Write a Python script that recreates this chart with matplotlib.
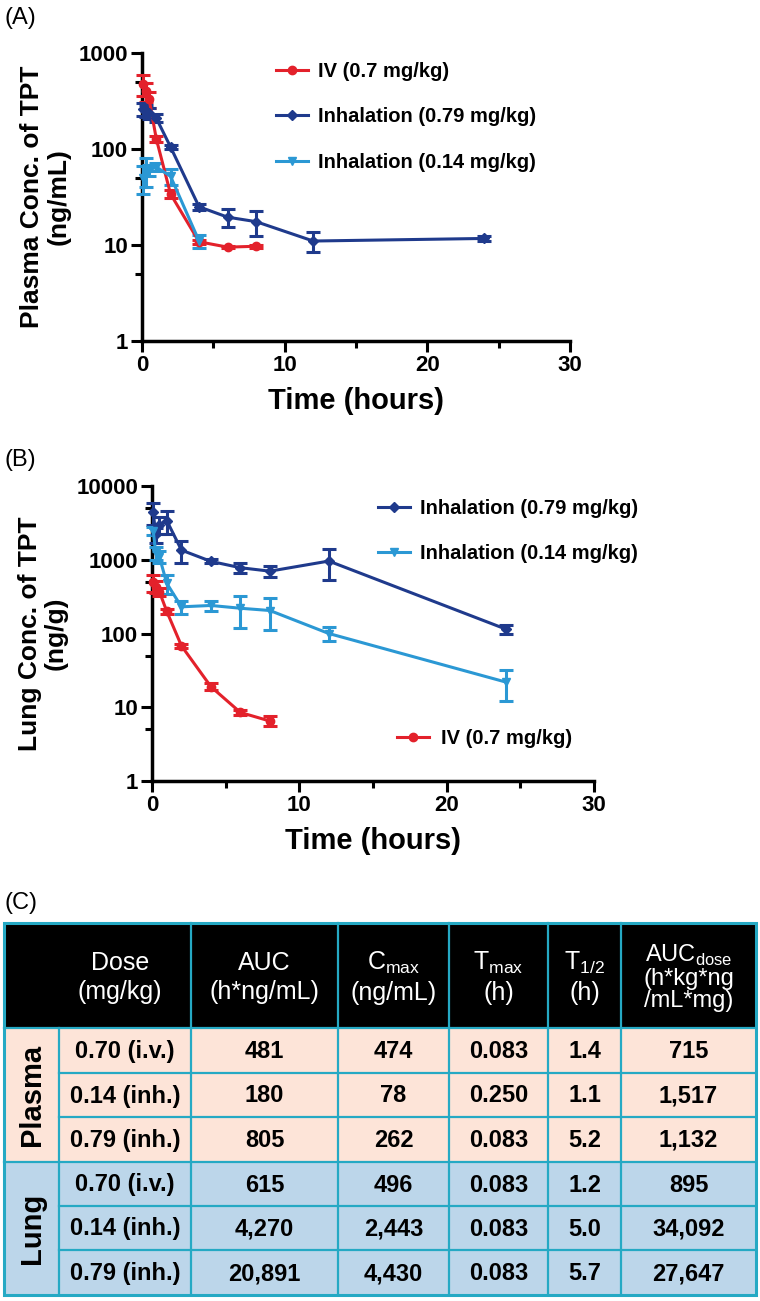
import numpy as np
import matplotlib
matplotlib.use("Agg")
import matplotlib.pyplot as plt
from matplotlib.lines import Line2D
from matplotlib.patches import Rectangle
from matplotlib.ticker import LogLocator, FixedLocator, NullFormatter

plt.rcParams['font.family'] = ['Liberation Sans', 'DejaVu Sans']
plt.rcParams['mathtext.fontset'] = 'custom'
plt.rcParams['mathtext.rm'] = 'Liberation Sans'

RED = '#e3212b'
DARK = '#1f3a8c'
LIGHT = '#2b98d4'

# ---- plasma data (A) ----
t_iv = [0.083, 0.25, 0.5, 1, 2, 4, 6, 8]
t_inh = [0.083, 0.25, 0.5, 1, 2, 4, 6, 8, 12, 24]
t_inh_low_plasma = [0.083, 0.25, 0.5, 1, 2, 4]

plasma_iv = [474, 400, 330, 128, 34, 10.8, 9.5, 9.7]
plasma_iv_sd = [120, 90, 60, 10, 3, 0.5, 0.3, 0.3]
plasma_hi = [262, 250, 235, 210, 105, 25, 19.5, 17.5, 11, 11.7]
plasma_hi_sd = [40, 35, 30, 20, 5, 2, 4, 5, 2.5, 0.8]
plasma_lo = [50, 60, 60, 65, 52, 11]
plasma_lo_sd = [16, 20, 8, 6, 10, 1.8]

# ---- lung data (B) ----
lung_iv = [496, 430, 370, 200, 68, 19, 8.5, 6.5]
lung_iv_sd = [130, 80, 50, 15, 5, 2, 0.6, 1]
lung_hi = [4430, 2200, 3000, 3400, 1350, 950, 780, 700, 960, 115]
lung_hi_sd = [1500, 500, 800, 1200, 450, 60, 120, 120, 430, 15]
lung_lo = [2443, 1250, 1100, 480, 230, 240, 220, 205, 100, 22]
lung_lo_sd = [300, 250, 200, 140, 45, 40, 100, 95, 22, 10]

lbl_iv = 'IV (0.7 mg/kg)'
lbl_hi = 'Inhalation (0.79 mg/kg)'
lbl_lo = 'Inhalation (0.14 mg/kg)'

# ---- table data (C) ----
col_headers = ['Dose\n(mg/kg)', 'AUC\n(h*ng/mL)', r'C$_{\mathregular{max}}$' + '\n(ng/mL)',
               r'T$_{\mathregular{max}}$' + '\n(h)', r'T$_{\mathregular{1/2}}$' + '\n(h)',
               r'AUC$_{\mathregular{dose}}$' + '\n(h*kg*ng\n/mL*mg)']
groups = ['Plasma', 'Lung']
doses = ['0.70 (i.v.)', '0.14 (inh.)', '0.79 (inh.)']
auc = ['481', '180', '805', '615', '4,270', '20,891']
cmax = ['474', '78', '262', '496', '2,443', '4,430']
tmax = ['0.083', '0.250', '0.083', '0.083', '0.083', '0.083']
thalf = ['1.4', '1.1', '5.2', '1.2', '5.0', '5.7']
auc_dose = ['715', '1,517', '1,132', '895', '34,092', '27,647']

W, H = 760, 1301
fig = plt.figure(figsize=(W / 100, H / 100), dpi=100)
LEG_FONT = {'family': 'Liberation Sans', 'weight': 'bold', 'size': 14.5}


def px_axes(l, r, t, b):
    return fig.add_axes([l / W, 1 - b / H, (r - l) / W, (b - t) / H])


def style_axes(ax, ymin, ymax, ylabel):
    ax.set_yscale('log')
    ax.set_xlim(0, 30)
    ax.set_ylim(ymin, ymax)
    ax.spines['top'].set_visible(False)
    ax.spines['right'].set_visible(False)
    for s in ['left', 'bottom']:
        ax.spines[s].set_linewidth(2.5)
    ax.xaxis.set_major_locator(FixedLocator([0, 10, 20, 30]))
    ax.xaxis.set_minor_locator(FixedLocator([5, 15, 25]))
    ax.yaxis.set_major_locator(LogLocator(base=10, numticks=10))
    ax.yaxis.set_minor_locator(LogLocator(base=10, subs=[5], numticks=10))
    ax.yaxis.set_minor_formatter(NullFormatter())
    ax.yaxis.set_major_formatter(plt.FuncFormatter(lambda v, p: f'{v:g}'))
    ax.tick_params(which='major', length=8, width=2.2, labelsize=16, pad=2)
    ax.tick_params(which='minor', length=5, width=2.2)
    for lab in ax.get_xticklabels() + ax.get_yticklabels():
        lab.set_fontweight('bold')
    ax.set_xlabel('Time (hours)', fontsize=21, fontweight='heavy', labelpad=8)
    ax.set_ylabel(ylabel, fontsize=19, fontweight='heavy', labelpad=6, linespacing=1.1)
    ax.patch.set_alpha(0)


def series(ax, t, y, sd, color, marker, ms):
    ax.errorbar(t, y, yerr=sd, color=color, marker=marker, ms=ms, lw=2.2,
                elinewidth=2.2, capsize=5, capthick=2.2, clip_on=False, zorder=3)


def handle(color, marker, ms):
    return Line2D([], [], color=color, marker=marker, ms=ms, lw=2.2)


# ---- panel A ----
axA = px_axes(142, 570, 53, 341)
series(axA, t_iv, plasma_iv, plasma_iv_sd, RED, 'o', 6)
series(axA, t_inh, plasma_hi, plasma_hi_sd, DARK, 'D', 5)
series(axA, t_inh_low_plasma, plasma_lo, plasma_lo_sd, LIGHT, 'v', 6)
style_axes(axA, 1, 1000, 'Plasma Conc. of TPT\n(ng/mL)')
fig.legend([handle(RED, 'o', 6), handle(DARK, 'D', 5), handle(LIGHT, 'v', 6)],
           [lbl_iv, lbl_hi, lbl_lo], loc='center left',
           bbox_to_anchor=(258 / W, 1 - 117 / H), frameon=False,
           handlelength=1.6, handletextpad=0.5, labelspacing=1.3, prop=LEG_FONT)

# ---- panel B ----
axB = px_axes(152, 594, 486, 781)
series(axB, t_inh, lung_hi, lung_hi_sd, DARK, 'D', 5)
series(axB, t_inh, lung_lo, lung_lo_sd, LIGHT, 'v', 6)
series(axB, t_iv, lung_iv, lung_iv_sd, RED, 'o', 6)
style_axes(axB, 1, 10000, 'Lung Conc. of TPT\n(ng/g)')
fig.legend([handle(DARK, 'D', 5), handle(LIGHT, 'v', 6)], [lbl_hi, lbl_lo],
           loc='center left', bbox_to_anchor=(360 / W, 1 - 531 / H), frameon=False,
           handlelength=1.6, handletextpad=0.5, labelspacing=1.3, prop=LEG_FONT)
fig.legend([handle(RED, 'o', 6)], [lbl_iv],
           loc='center left', bbox_to_anchor=(379 / W, 1 - 739 / H), frameon=False,
           handlelength=1.6, handletextpad=0.6, prop=LEG_FONT)

# panel letters
for txt, y in [('(A)', 18), ('(B)', 460), ('(C)', 903)]:
    fig.text(5 / W, 1 - y / H, txt, fontsize=17, va='center', ha='left')

# ---- panel C table ----
axT = fig.add_axes([0, 0, 1, 1])
axT.set_xlim(0, W)
axT.set_ylim(H, 0)
axT.axis('off')

col_x = [4, 59, 191, 338, 449, 548, 621, 756]
row_y = [923, 1028, 1073, 1117, 1162, 1206, 1250, 1295]
EDGE = '#25a9c4'
PEACH = '#fde4d8'
BLUE = '#bcd6ea'

axT.add_patch(Rectangle((col_x[0], row_y[0]), col_x[-1] - col_x[0], row_y[1] - row_y[0],
                        facecolor='black', edgecolor='none'))
for g, fill in enumerate([PEACH, BLUE]):
    y0 = row_y[1 + 3 * g]
    axT.add_patch(Rectangle((col_x[0], y0), col_x[-1] - col_x[0], row_y[4 + 3 * g] - y0,
                            facecolor=fill, edgecolor='none'))

# grid lines
for x in col_x[2:-1]:
    axT.plot([x, x], [row_y[0], row_y[-1]], color=EDGE, lw=1.6)
axT.plot([col_x[1], col_x[1]], [row_y[1], row_y[-1]], color=EDGE, lw=1.6)
for i, y in enumerate(row_y[1:-1]):
    x_start = col_x[0] if i in (0, 3) else col_x[1]
    axT.plot([x_start, col_x[-1]], [y, y], color=EDGE, lw=1.6)
axT.add_patch(Rectangle((col_x[0], row_y[0]), col_x[-1] - col_x[0], row_y[-1] - row_y[0],
                        facecolor='none', edgecolor=EDGE, lw=2.2))

# headers
head_cx = [120] + [(col_x[i] + col_x[i + 1]) / 2 for i in range(2, 7)]
for cx, txt in zip(head_cx, col_headers):
    n_lines = txt.count('\n') + 1
    axT.text(cx, (row_y[0] + row_y[1]) / 2 + 2, txt, color='white', ha='center', va='center',
             fontsize=18 if n_lines == 2 else 17, linespacing=1.25 if n_lines == 2 else 0.98)

# group labels
for g, name in enumerate(groups):
    cy = (row_y[1 + 3 * g] + row_y[4 + 3 * g]) / 2
    axT.text((col_x[0] + col_x[1]) / 2 + 1, cy, name, rotation=90, ha='center', va='center',
             fontsize=21, fontweight='heavy')

# body
cols = [doses * 2, auc, cmax, tmax, thalf, auc_dose]
for c, vals in enumerate(cols):
    cx = (col_x[c + 1] + col_x[c + 2]) / 2
    for r, v in enumerate(vals):
        cy = (row_y[r + 1] + row_y[r + 2]) / 2
        axT.text(cx, cy + 1, v, ha='center', va='center', fontsize=17, fontweight='bold')

fig.savefig('out.png', dpi=100)
